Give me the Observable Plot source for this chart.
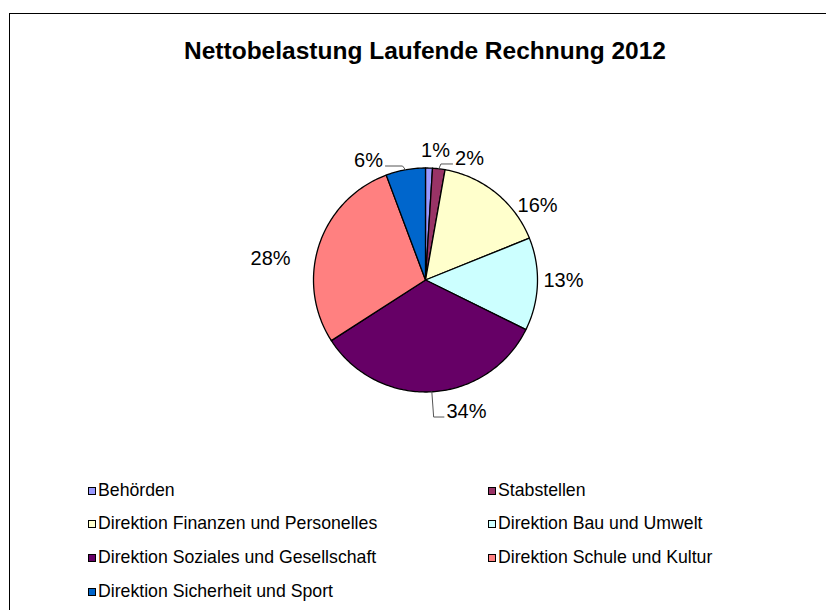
<!DOCTYPE html>
<html>
<head>
<meta charset="utf-8">
<script src="https://cdn.jsdelivr.net/npm/d3@7"></script>
<script src="https://cdn.jsdelivr.net/npm/@observablehq/plot@0.6"></script>
<style>
  html, body { margin: 0; padding: 0; background: #fff; }
  body { font-family: "Liberation Sans", Arial, sans-serif; color: #000; }
  #wrap { position: relative; width: 826px; height: 610px; overflow: hidden; }
  #frame { position: absolute; left: 9px; top: 13px; width: 900px; height: 700px;
           border-left: 1px solid #000; border-top: 1px solid #000; box-sizing: border-box; }
  #chart { position: absolute; left: 0; top: 0; }
  #title { position: absolute; left: 0; width: 850px; top: 39px; text-align: center;
           font-weight: bold; font-size: 24.5px; line-height: 1; white-space: nowrap; }
  .leg { position: absolute; display: flex; align-items: center; font-size: 17.7px; line-height: 1; white-space: nowrap; }
  .sw { width: 6px; height: 6px; border: 1px solid #000; margin-right: 2px; flex: none; }
</style>
</head>
<body>
<div id="wrap">
  <div id="frame"></div>
  <div id="chart"></div>
  <div id="title">Nettobelastung Laufende Rechnung 2012</div>
  <div id="legend"></div>
</div>
<script>
// ---- data ----
const categories = [
  "Behörden",
  "Stabstellen",
  "Direktion Finanzen und Personelles",
  "Direktion Bau und Umwelt",
  "Direktion Soziales und Gesellschaft",
  "Direktion Schule und Kultur",
  "Direktion Sicherheit und Sport"
];
const values = [1.0, 1.8, 16.1, 13.4, 33.6, 28.4, 5.7];
const colors = ["#9999FF", "#993366", "#FFFFCC", "#CCFFFF", "#660066", "#FF8080", "#0066CC"];
// label placement (polar: angle in degrees clockwise from top, radius relative to pie radius)
const labelAngles = [4.4, 19.9, 56.4, 90.2, 162.7, 277.9, 334.5];
const labelRadii = [1.16, 1.154, 1.201, 1.232, 1.23, 1.397, 1.182];
const leaderCats = ["Stabstellen", "Direktion Soziales und Gesellschaft", "Direktion Sicherheit und Sport"];

// ---- layout ----
const W = 826, H = 610;
const cx = 425, cy = 279.5, Rpx = 112;
const labelFont = 20;

const total = d3.sum(values);
const arcs = d3.pie().sort(null).value(d => d)(values);

// slice polygons in unit coordinates (radius = 1)
const slicePts = [];
arcs.forEach((a, i) => {
  const cat = categories[i];
  slicePts.push({cat, x: 0, y: 0});
  const n = Math.max(2, Math.ceil((a.endAngle - a.startAngle) / (Math.PI / 180)));
  for (let k = 0; k <= n; k++) {
    const t = a.startAngle + (a.endAngle - a.startAngle) * k / n;
    slicePts.push({cat, x: Math.sin(t), y: Math.cos(t)});
  }
  slicePts.push({cat, x: 0, y: 0});
});

// measure text widths
const ctx = document.createElement("canvas").getContext("2d");
ctx.font = `${labelFont}px "Liberation Sans", Arial, sans-serif`;

const labels = arcs.map((a, i) => {
  const ang = labelAngles[i] * Math.PI / 180;
  const r = labelRadii[i];
  return {
    cat: categories[i],
    text: d3.format(".0f")(values[i] / total * 100) + "%",
    x: r * Math.sin(ang),
    y: r * Math.cos(ang),
    mid: (a.startAngle + a.endAngle) / 2
  };
});

const leaderPts = [];
labels.filter(l => leaderCats.includes(l.cat)).forEach(l => {
  const ex = Math.sin(l.mid), ey = Math.cos(l.mid);
  const hw = ctx.measureText(l.text).width / 2 / Rpx;
  const side = l.x > ex ? 1 : -1;
  const endX = l.x - side * (hw + 2.5 / Rpx);
  const endY = l.y - 5.5 / Rpx;
  const elbX = ex + 0.15 * (endX - ex);
  leaderPts.push({cat: l.cat, x: ex, y: ey});
  leaderPts.push({cat: l.cat, x: elbX, y: endY});
  leaderPts.push({cat: l.cat, x: endX, y: endY});
});

const chart = Plot.plot({
  width: W,
  height: H,
  margin: 0,
  style: {background: "transparent", overflow: "visible"},
  x: {domain: [-1, 1], range: [cx - Rpx, cx + Rpx], axis: null},
  y: {domain: [-1, 1], range: [cy + Rpx, cy - Rpx], axis: null},
  color: {domain: categories, range: colors},
  marks: [
    Plot.line(slicePts, {x: "x", y: "y", z: "cat", fill: "cat", stroke: "#000", strokeWidth: 1.3, curve: "linear", strokeLinejoin: "round"}),
    Plot.line(leaderPts, {x: "x", y: "y", z: "cat", stroke: "#555", strokeWidth: 1, curve: "linear"}),
    Plot.text(labels, {x: "x", y: "y", text: "text", fontSize: labelFont, fill: "#000",
      fontFamily: '"Liberation Sans", Arial, sans-serif'})
  ]
});
document.getElementById("chart").appendChild(chart);

// ---- legend ----
const legend = document.getElementById("legend");
categories.forEach((c, i) => {
  const col = i % 2, row = Math.floor(i / 2);
  const item = document.createElement("div");
  item.className = "leg";
  item.style.left = (col === 0 ? 88 : 488) + "px";
  item.style.top = (490.5 + row * 33.7 - 9) + "px";
  item.style.height = "18px";
  const sw = document.createElement("span");
  sw.className = "sw";
  sw.style.background = colors[i];
  const tx = document.createElement("span");
  tx.textContent = c;
  item.appendChild(sw);
  item.appendChild(tx);
  legend.appendChild(item);
});
</script>
</body>
</html>
